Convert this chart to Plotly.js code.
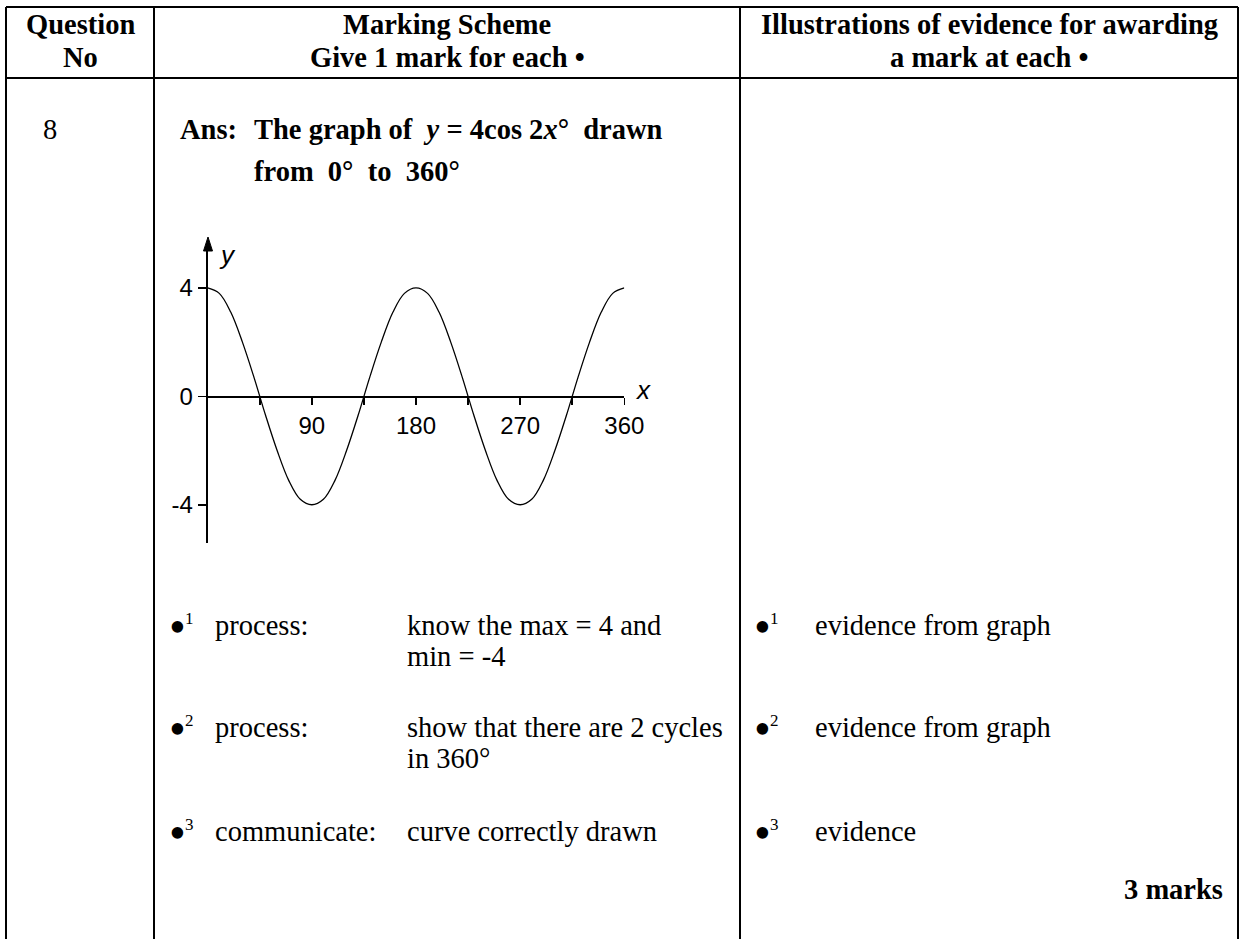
<!DOCTYPE html>
<html>
<head>
<meta charset="utf-8">
<script src="https://cdn.plot.ly/plotly-3.0.1.min.js"></script>
<style>
  html, body { margin: 0; padding: 0; background: #fff; }
  #chart { width: 1240px; height: 939px; }
</style>
</head>
<body>
<div id="chart"></div>
<script>
// curve values (degrees -> y)
const xDeg = [0, 10, 20, 30, 40, 50, 60, 70, 80, 90, 100, 110, 120,
              130, 140, 150, 160, 170, 180, 190, 200, 210, 220, 230, 240,
              250, 260, 270, 280, 290, 300, 310, 320, 330, 340, 350, 360];
const yVal = [4, 3.8, 3.1, 2, 0.7, -0.7, -2, -3.1, -3.8, -4, -3.8, -3.1, -2,
              -0.7, 0.7, 2, 3.1, 3.8, 4, 3.8, 3.1, 2, 0.7, -0.7, -2,
              -3.1, -3.8, -4, -3.8, -3.1, -2, -0.7, 0.7, 2, 3.1, 3.8, 4];

// axis ticks
const xTickVals = [45, 90, 135, 180, 225, 270, 315, 360];
const xTickText = ['', '90', '', '180', '', '270', '', '360'];
const yTickVals = [-4, 0, 4];
const yTickText = ['-4', '0', '4'];

// table text
const headLine1 = ['Question', 'Marking Scheme', 'Illustrations of evidence for awarding'];
const headLine2 = ['No', 'Give 1 mark for each •', 'a mark at each •'];
const markNums = ['1', '2', '3'];
const markKinds = ['process:', 'process:', 'communicate:'];
const markText = [['know the max = 4 and', 'min = -4'],
                  ['show that there are 2 cycles', 'in 360°'],
                  ['curve correctly drawn']];
const evidText = ['evidence from graph', 'evidence from graph', 'evidence'];

const W = 1240, H = 939;
const SERIF = 'Liberation Serif, Times New Roman, serif';
const SANS = 'Liberation Sans, Arial, sans-serif';
const FS = 28.5;           // body / header text size
const NB = '\u00A0';

// pixel -> paper helpers
const px = x => x / W;
const py = y => 1 - y / H;

// text placed by its baseline (yanchor bottom = baseline + descent + pad)
function txt(text, x, base, size, opts = {}) {
  const desc = opts.font === SANS ? 0.212 : 0.216;
  return {
    text: text, xref: 'paper', yref: 'paper',
    x: px(x), y: py(base + desc * size + 1),
    xanchor: opts.anchor || 'left', yanchor: 'bottom',
    showarrow: false,
    font: { family: opts.font || SERIF, size: size, color: '#000' }
  };
}

// big bullet with its small raised number
function bullet(n, x, base) {
  return [
    txt('•', x - 3.5, base + 7.5, 48),
    txt(n, x + 13, base - 11, 17)
  ];
}

// table grid
const colX = [6, 154, 740, 1238];
const topY = 7, headY = 78;
const line = { color: '#000', width: 2 };
const shapes = [
  { type: 'line', xref: 'paper', yref: 'paper', x0: px(colX[0]), x1: px(colX[3]), y0: py(topY), y1: py(topY), line },
  { type: 'line', xref: 'paper', yref: 'paper', x0: px(colX[0]), x1: px(colX[3]), y0: py(headY), y1: py(headY), line }
];
colX.forEach(c => shapes.push({
  type: 'line', xref: 'paper', yref: 'paper', x0: px(c), x1: px(c), y0: py(topY), y1: 0, line
}));

// y axis arrow head
shapes.push({
  type: 'path', xref: 'paper', yref: 'paper',
  path: `M ${px(208)} ${py(237)} L ${px(203.5)} ${py(251)} L ${px(212.5)} ${py(251)} Z`,
  fillcolor: '#000', line: { color: '#000', width: 1 }
});

const ann = [];
const headCx = [80, 447, 989];
headLine1.forEach((t, i) => ann.push(txt('<b>' + t + '</b>', headCx[i], 35, FS, { anchor: 'center' })));
headLine2.forEach((t, i) => ann.push(txt('<b>' + t + '</b>', headCx[i], 68, FS, { anchor: 'center' })));

ann.push(txt('8', 50, 140, FS, { anchor: 'center' }));
ann.push(txt('<b>Ans:</b>', 178, 140, FS));
ann.push(txt('<b>The graph of' + NB + NB + '<i>y</i> = 4cos' + NB + '2<i>x</i>°' + NB + NB + 'drawn</b>', 252, 140, FS));
ann.push(txt('<b>from' + NB + NB + '0°' + NB + ' to' + NB + NB + '360°</b>', 252, 182, FS));

// marking rows
const rowBase = [636, 738, 842];
rowBase.forEach((b, i) => {
  bullet(markNums[i], 170, b).forEach(a => ann.push(a));
  ann.push(txt(markKinds[i], 213, b, FS));
  markText[i].forEach((t, j) => ann.push(txt(t, 405, b + 31 * j, FS)));
  bullet(markNums[i], 755, b).forEach(a => ann.push(a));
  ann.push(txt(evidText[i], 813, b, FS));
});
ann.push(txt('<b>3 marks</b>', 1225, 900, FS, { anchor: 'right' }));

// axis letters
ann.push(txt('<i>x</i>', 643, 400, 26, { anchor: 'center', font: SANS }));
ann.push(txt('<i>y</i>', 227, 265, 26, { anchor: 'center', font: SANS }));

const trace = {
  x: xDeg, y: yVal, type: 'scatter', mode: 'lines',
  line: { color: '#000', width: 1.3, shape: 'spline', smoothing: 1 },
  hoverinfo: 'skip', cliponaxis: false
};

const layout = {
  width: W, height: H, autosize: false,
  margin: { l: 0, r: 0, t: 0, b: 0, pad: 0 },
  paper_bgcolor: '#fff', plot_bgcolor: 'rgba(0,0,0,0)',
  showlegend: false,
  xaxis: {
    domain: [px(207.7), px(624.3)], range: [0, 360],
    anchor: 'free', position: py(396.7),
    showline: true, linecolor: '#000', linewidth: 2,
    ticks: 'outside', ticklen: 7, tickwidth: 1.5, tickcolor: '#000',
    tickvals: xTickVals, ticktext: xTickText,
    tickfont: { family: SANS, size: 24, color: '#000' },
    showgrid: false, zeroline: false, fixedrange: true
  },
  yaxis: {
    domain: [py(542.7), py(250)], range: [-5.4, 5.4],
    anchor: 'x',
    showline: true, linecolor: '#000', linewidth: 2,
    ticks: 'outside', ticklen: 8, tickwidth: 1.5, tickcolor: '#000',
    tickvals: yTickVals, ticktext: yTickText,
    tickfont: { family: SANS, size: 24, color: '#000' },
    showgrid: false, zeroline: false, fixedrange: true
  },
  shapes: shapes,
  annotations: ann
};

Plotly.newPlot('chart', [trace], layout, { staticPlot: true, displayModeBar: false });
</script>
</body>
</html>
